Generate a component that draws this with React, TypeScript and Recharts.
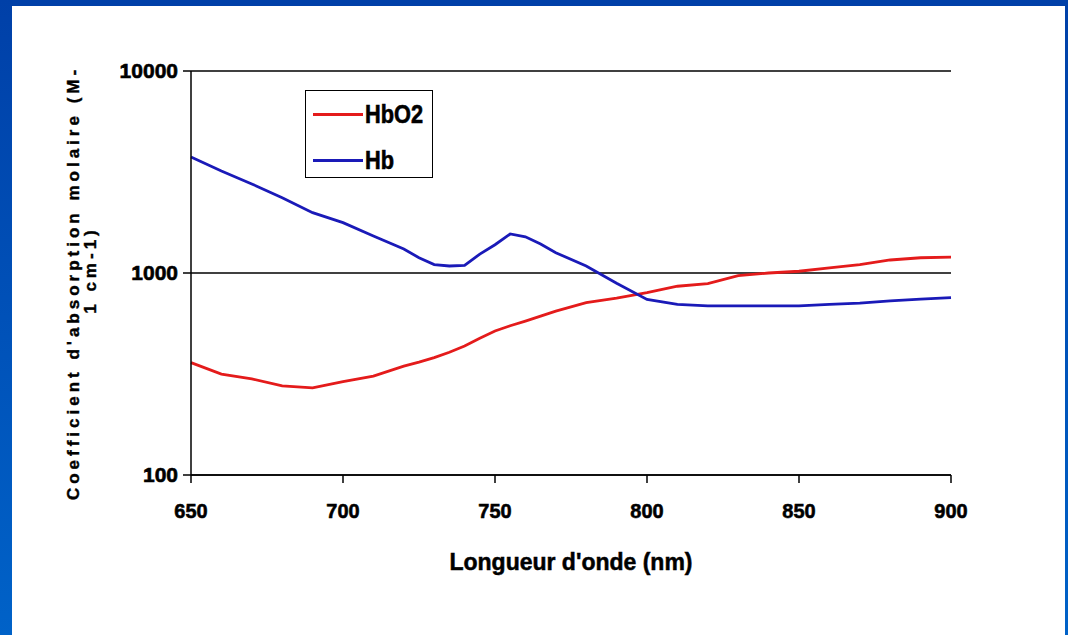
import { LineChart, Line, XAxis, YAxis, CartesianGrid, Legend, Label } from 'recharts';

const wavelengths = [650, 660, 670, 680, 690, 700, 710, 720, 725, 730, 735, 740, 745, 750, 755, 760, 765, 770, 780, 790, 800, 810, 820, 830, 840, 850, 860, 870, 880, 890, 900];
const hbo2 = [360, 316, 299, 276, 270, 290, 309, 346, 362, 381, 405, 435, 475, 516, 548, 578, 612, 648, 713, 751, 800, 860, 885, 970, 1000, 1020, 1060, 1100, 1160, 1190, 1198];
const hb = [3750, 3200, 2760, 2360, 1990, 1775, 1525, 1315, 1190, 1100, 1083, 1090, 1240, 1380, 1560, 1510, 1390, 1260, 1083, 890, 740, 700, 688, 687, 687, 687, 700, 710, 727, 743, 755];
const xTicks = [650, 700, 750, 800, 850, 900];
const yTicks = [100, 1000, 10000];
const seriesNames = ['HbO2', 'Hb'];
const colors = ['#e41b1b', '#1a1ab8'];

const data = wavelengths.map((w, i) => ({ w, HbO2: hbo2[i], Hb: hb[i] }));

const font = '"Liberation Sans Narrow", "Liberation Sans", Arial, sans-serif';

function XTick(props: any) {
  const { x, y, payload } = props;
  return (
    <g transform={`translate(${x},${y}) scale(0.95,1)`}>
      <text x={0} y={33} textAnchor="middle" fontFamily={font} fontWeight="bold" fontSize={21} fill="#000" stroke="#000" strokeWidth={0.6}>
        {payload.value}
      </text>
    </g>
  );
}

function YTick(props: any) {
  const { x, y, payload } = props;
  return (
    <g transform={`translate(${x - 3},${y})`}>
      <text x={0} y={7} textAnchor="end" fontFamily={font} fontWeight="bold" fontSize={21} fill="#000" stroke="#000" strokeWidth={0.6}>
        {payload.value}
      </text>
    </g>
  );
}

function YLabel() {
  return (
    <g fontFamily={font} fontWeight="bold" fontSize={17} fill="#000" stroke="#000" strokeWidth={0.4} letterSpacing={4}>
      <text x={79} y={283} transform="rotate(-90 79 283)" textAnchor="middle">
        Coefficient d'absorption molaire (M-
      </text>
      <text x={96} y={270} transform="rotate(-90 96 270)" textAnchor="middle">
        1 cm-1)
      </text>
    </g>
  );
}

function LegendBox() {
  return (
    <div style={{ width: 128, height: 88, border: '1.5px solid #000', boxSizing: 'border-box', background: '#fff', position: 'relative' }}>
      {seriesNames.map((name, i) => (
        <div key={name} style={{ position: 'absolute', left: 7, top: i === 0 ? 8 : 54, height: 30, display: 'flex', alignItems: 'center' }}>
          <div style={{ width: 50, height: 3, background: colors[i] }} />
          <span style={{ fontFamily: font, fontWeight: 'bold', fontSize: 25, color: '#000', display: 'inline-block', transform: 'scaleX(0.87)', transformOrigin: 'left center', marginLeft: 2, WebkitTextStroke: '0.6px #000' }}>
            {name}
          </span>
        </div>
      ))}
    </div>
  );
}

export default function App() {
  return (
    <div style={{ position: 'absolute', left: 0, top: 0, width: 1068, height: 635, background: '#fff', overflow: 'hidden' }}>
      <div style={{ position: 'absolute', left: 0, top: 0, width: 1068, height: 6, background: '#0040a8' }} />
      <div style={{ position: 'absolute', left: 0, top: 0, width: 12, height: 635, background: 'linear-gradient(#0040a8, #0062c8)' }} />
      <div style={{ position: 'absolute', left: 1065, top: 0, width: 3, height: 635, background: 'linear-gradient(#0040a8, #0062c8)' }} />
      <div style={{ position: 'absolute', left: 0, top: 0 }}>
        <LineChart width={1068} height={635} data={data} margin={{ top: 71, right: 117, left: 121, bottom: 60 }}>
          <CartesianGrid vertical={false} stroke="#000" strokeWidth={1.5} />
          <XAxis
            dataKey="w"
            type="number"
            domain={[650, 900]}
            ticks={xTicks}
            height={100}
            tickSize={8}
            stroke="#000"
            strokeWidth={1.5}
            tick={<XTick />}
          >
            <Label
              value="Longueur d'onde (nm)"
              position="insideBottom"
              offset={5}
              fontFamily={font}
              fontWeight="bold"
              fontSize={23}
              fill="#000"
              stroke="#000"
              strokeWidth={0.5}
            />
          </XAxis>
          <YAxis
            scale="log"
            domain={[100, 10000]}
            ticks={yTicks}
            allowDataOverflow
            width={70}
            tickSize={8}
            stroke="#000"
            strokeWidth={1.5}
            tick={<YTick />}
          >
            <Label content={<YLabel />} />
          </YAxis>
          <Legend
            layout="vertical"
            align="center"
            verticalAlign="middle"
            content={<LegendBox />}
            wrapperStyle={{ position: 'absolute', left: 305, top: 90, width: 128, height: 88 }}
          />
          <Line type="linear" dataKey="HbO2" stroke={colors[0]} strokeWidth={2.8} dot={false} isAnimationActive={false} />
          <Line type="linear" dataKey="Hb" stroke={colors[1]} strokeWidth={2.8} dot={false} isAnimationActive={false} />
        </LineChart>
      </div>
    </div>
  );
}
